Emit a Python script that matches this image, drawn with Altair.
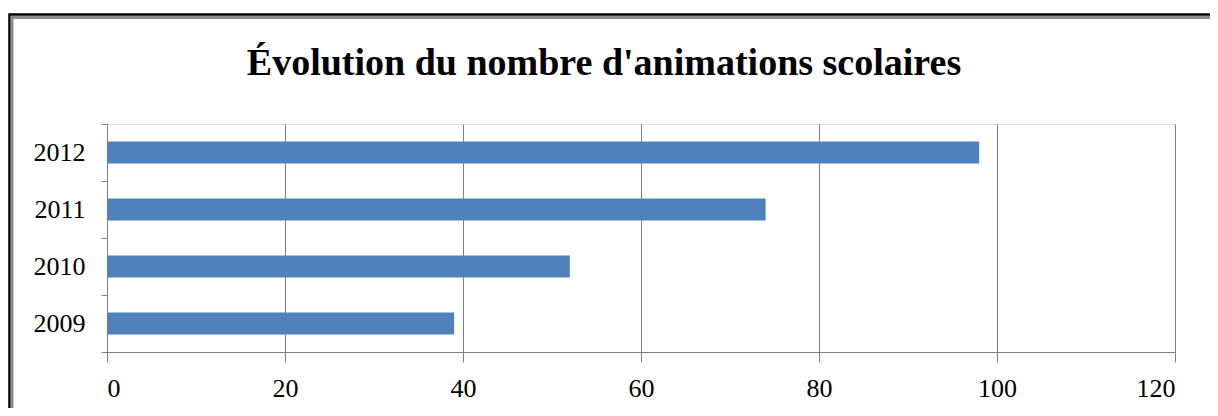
import altair as alt
import pandas as pd

years = ["2009", "2010", "2011", "2012"]
counts = [39, 52, 74, 98]
title_text = "Évolution du nombre d'animations scolaires"
x_ticks = [0, 20, 40, 60, 80, 100, 120]

df = pd.DataFrame({"Année": years, "Nombre": counts})
tdf = pd.DataFrame({"t": [title_text]})

W, H = 1068, 228
PAD = {"left": 99, "top": 116, "right": 35, "bottom": 56}

bars = alt.Chart(df).mark_bar(color="#4F81BD", height=alt.RelativeBandSize(0.39)).encode(
    x=alt.X("Nombre:Q",
            scale=alt.Scale(domain=[0, 120], nice=False),
            axis=alt.Axis(values=x_ticks, title=None, grid=True, gridColor="#808080",
                          gridWidth=1, domainColor="#808080", tickColor="#808080",
                          tickSize=10, labelPadding=13, labelFontSize=26,
                          labelFont="Liberation Serif", labelColor="#000000")),
    y=alt.Y("Année:N", sort=years[::-1],
            scale=alt.Scale(paddingInner=0, paddingOuter=0),
            axis=alt.Axis(title=None, tickBand="extent", grid=False,
                          domainColor="#808080", tickColor="#808080", tickSize=6,
                          labelPadding=16, labelFontSize=26,
                          labelFont="Liberation Serif", labelColor="#000000")),
)

title = alt.Chart(tdf).mark_text(font="Liberation Serif", fontSize=38, fontWeight="bold",
                                 color="#000000", align="center", baseline="alphabetic",
                                 clip=False).encode(
    text="t:N", x=alt.value(497), y=alt.value(-49),
)

frame_outer = alt.Chart(tdf).mark_rect(fill=None, stroke="#000000", strokeWidth=2.5, clip=False).encode(
    x=alt.value(-97.5), x2=alt.value(W + 200),
    y=alt.value(-109.5), y2=alt.value(H + 200),
)
frame_inner = alt.Chart(tdf).mark_rect(fill=None, stroke="#8C8C8C", strokeWidth=3, clip=False).encode(
    x=alt.value(-95), x2=alt.value(W + 200),
    y=alt.value(-106.5), y2=alt.value(H + 200),
)

chart = alt.layer(bars, title, frame_outer, frame_inner).properties(
    width=W, height=H,
    autosize=alt.AutoSizeParams(type="none"),
    padding=PAD,
).configure_view(stroke=None).configure(background="#FFFFFF")

chart.save("out.html", embed_options={"renderer": "svg", "actions": False})
